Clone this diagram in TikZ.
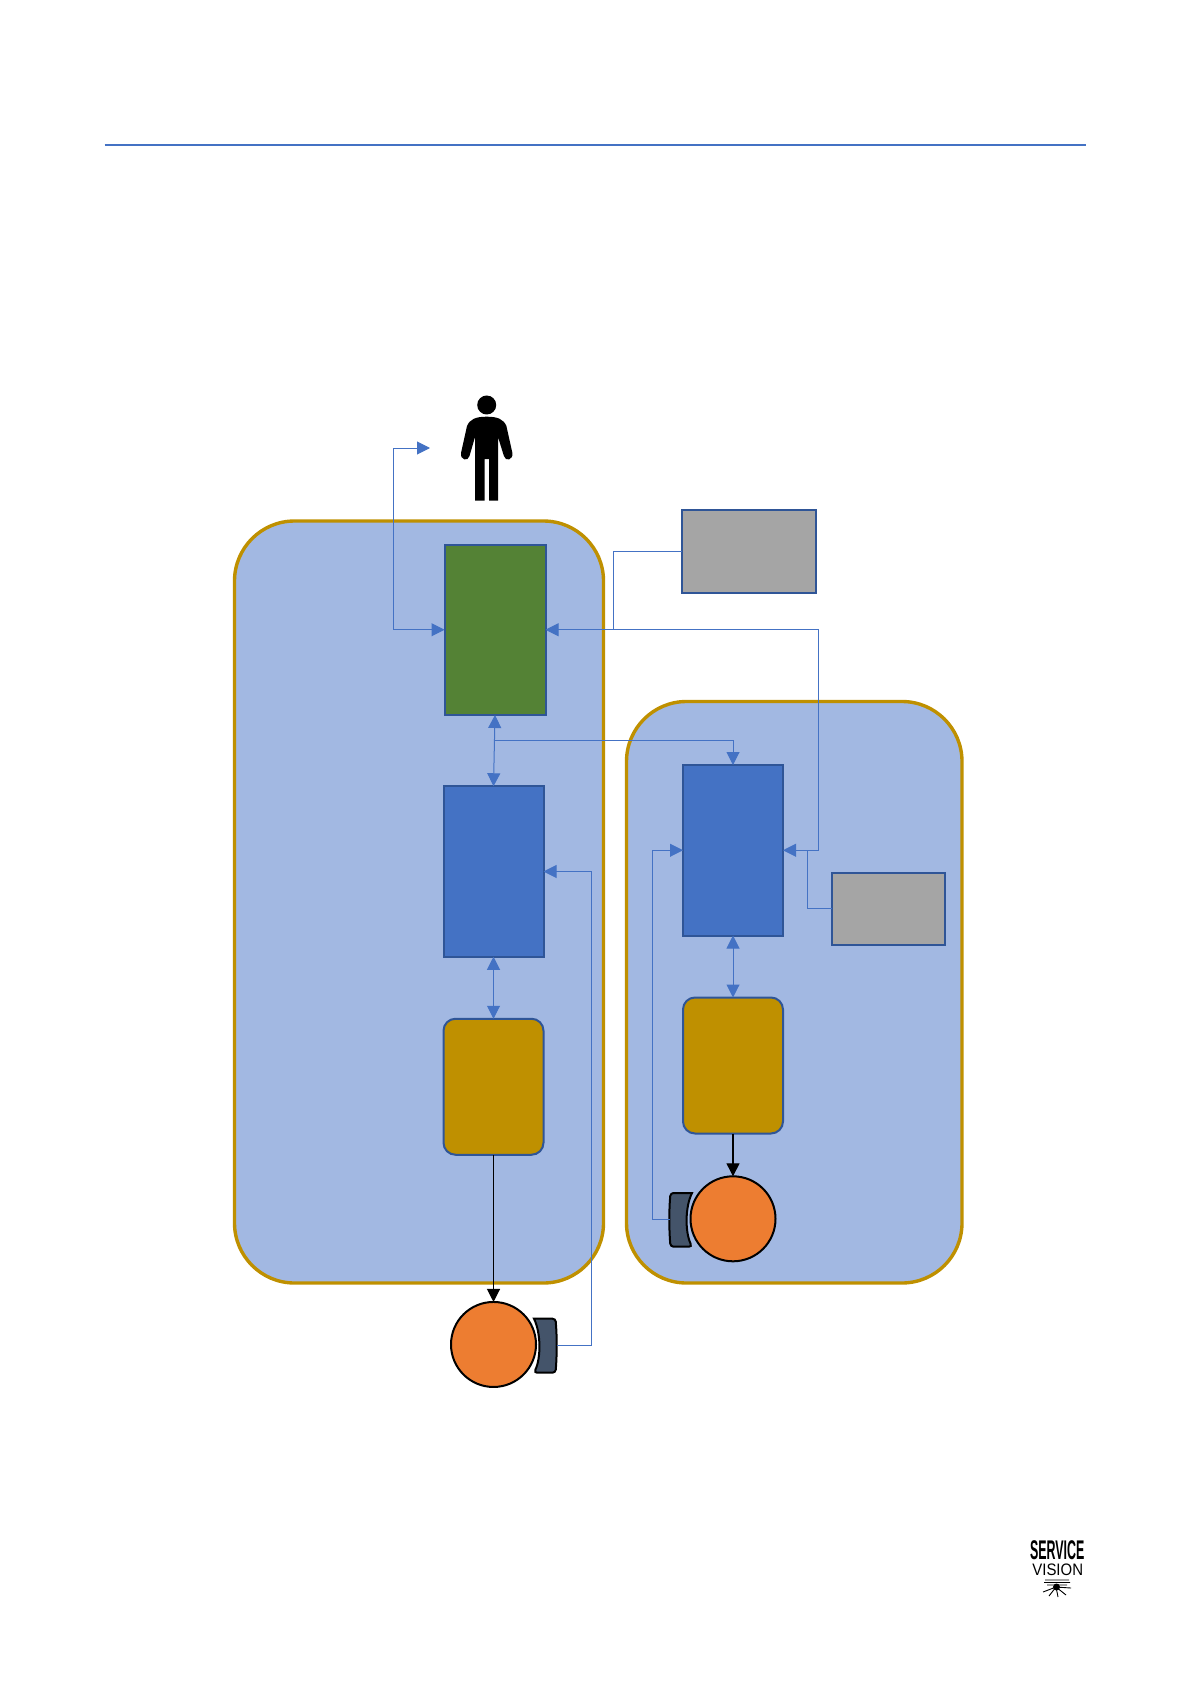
\documentclass[tikz,border=0pt]{standalone}
\usepackage{fontspec}
\setmainfont{Liberation Sans}
\usetikzlibrary{arrows.meta,positioning}
\definecolor{panelblue}{HTML}{A2B8E2}
\definecolor{panelgold}{HTML}{BF9000}
\definecolor{officeblue}{HTML}{4472C4}
\definecolor{edgeblue}{HTML}{2F5597}
\definecolor{officegreen}{HTML}{548235}
\definecolor{officeorange}{HTML}{ED7D31}
\definecolor{officegrey}{HTML}{A5A5A5}
\definecolor{slategrey}{HTML}{44546A}
\tikzset{
  panel/.style={
    rounded corners=30pt,
    draw=panelgold,
    fill=panelblue,
    line width=1.7pt
  },
  bloque/.style={
    draw=edgeblue,
    fill=officeblue,
    line width=1pt,
    outer sep=0pt,
    inner sep=0pt,
    minimum width=50pt,
    minimum height=85.25pt
  },
  drive/.style={
    bloque,
    rounded corners=6pt,
    fill=panelgold,
    minimum height=68pt
  },
  extra/.style={
    bloque,
    fill=officegrey
  },
  wheel/.style={
    circle,
    draw=black,
    fill=officeorange,
    line width=1pt,
    outer sep=0pt,
    inner sep=0pt,
    minimum size=42.5pt
  },
  sensor/.style={
    draw=black,
    fill=slategrey,
    line width=1pt,
    rounded corners=1.5pt
  },
  link/.style={
    -{Triangle[length=6.5pt,width=6.5pt]},
    officeblue,
    line width=.5pt
  },
  dlink/.style={
    link,
    {Triangle[length=6.5pt,width=6.5pt]}-{Triangle[length=6.5pt,width=6.5pt]}
  },
  feed/.style={
    officeblue,
    line width=.5pt
  },
  power/.style={
    -{Triangle[length=6.5pt,width=6.5pt]},
    black,
    line width=.6pt
  }
}
\begin{document}
\begin{tikzpicture}[x=.5pt,y=-.5pt]
\useasboundingbox (0,0) rectangle (1191,1684);
\draw[officeblue,line width=.6pt] (104.5,145) -- (1086,145);
% panels
\draw[panel] (234.5,521) rectangle (603.5,1283);
\draw[panel] (626.5,701.5) rectangle (962,1283);
% person
\node[circle,fill=black,inner sep=0pt,minimum size=9.5pt] (head) at (486.7,405) {};
\fill[black,line join=round] (486.7,416.7) .. controls (476,416.7) and (470,419) .. (467,426)
  -- (461,453) .. controls (460,460) and (468,462) .. (469.5,456) -- (475,437) -- (475,500.7)
  -- (484.5,500.7) -- (484.5,459) -- (489,459) -- (489,500.7) -- (498,500.7) -- (498,437)
  -- (503.9,456) .. controls (505.4,462) and (513.4,460) .. (512.4,453) -- (506.4,426)
  .. controls (503.4,419) and (497.4,416.7) .. (486.7,416.7) -- cycle;
% left column
\node[bloque,fill=officegreen,minimum width=50.5pt] (control) at (495,629.75) {};
\node[bloque] (blueL) at (493.5,871.5) {};
\node[drive,below=31pt of blueL] (driveL) {};
\node[wheel,below=73.6pt of driveL] (wheelL) {};
% right column
\node[bloque] (blueR) at (733,850.25) {};
\node[drive,below=31pt of blueR] (driveR) {};
\node[wheel,below=21.4pt of driveR] (wheelR) {};
% grey boxes
\node[extra,minimum width=67pt,minimum height=41.5pt] (extraT) at (749,551.5) {};
\node[extra,minimum width=56.5pt,minimum height=36.2pt] (extraB) at (888.3,908.8) {};
% sensors
\draw[sensor] (534,1318.7) -- (555.5,1318.7) .. controls (557,1336) and (557,1355) .. (555.5,1372.7)
  -- (534,1372.7) [sharp corners] .. controls (541,1358) and (541,1333) .. (534,1318.7) -- cycle;
\draw[sensor] (692,1193) -- (670.5,1193) .. controls (669,1210) and (669,1229) .. (670.5,1246.7)
  -- (692,1246.7) [sharp corners] .. controls (685,1232) and (685,1207) .. (692,1193) -- cycle;
\coordinate (sensorL) at (556.5,1345.5);
\coordinate (sensorR) at (669.5,1219);
\coordinate (backL) at (591.7,1345.5);
\coordinate (backR) at (652.7,1219);
% free ends
\coordinate (loop) at (393.5,448);
\coordinate (voice) at (430,448);
\coordinate (split) at (495,740);
\coordinate (bus) at (818.5,629.75);
\coordinate (joinT) at (613,629.75);
\coordinate (joinB) at (807,850.25);
% connectors
\draw[dlink] (control.west) -| (loop) -- (voice);
\draw[feed] (extraT.west) -| (joinT);
\draw[dlink] (control.east) -- (bus) |- (blueR.east);
\draw[feed] (extraB.west) -| (joinB);
\draw[dlink] (control.south) -- (blueL.north);
\draw[link] (split) -| (blueR.north);
\draw[dlink] (blueL.south) -- (driveL.north);
\draw[dlink] (blueR.south) -- (driveR.north);
\draw[power] (driveL.south) -- (wheelL.north);
\draw[power] (driveR.south) -- (wheelR.north);
\draw[link] (sensorL) -- (backL) |- (blueL.east);
\draw[link] (sensorR) -- (backR) |- (blueR.west);
% logo
\node[inner sep=0pt,font=\bfseries\fontsize{13.5}{13.5}\selectfont] (logoA) at (1057.2,1550.4) {\scalebox{.46}[1]{SERVICE}};
\node[inner sep=0pt,font=\fontsize{8.3}{8.3}\selectfont] (logoB) at (1057.7,1570) {\scalebox{.9}[1]{VISION}};
\draw[black,line width=.45pt] (1045,1580) -- (1069,1580) (1044,1582.5) -- (1070,1582.5) (1047,1585) -- (1067,1585)
  (1056,1587) -- (1049,1596) (1056,1587) -- (1058,1597) (1056,1587) -- (1066,1595) (1056,1587) -- (1043,1592) (1056,1587) -- (1071,1588);
\fill[black] (1056.5,1587) circle[radius=3.5];
\end{tikzpicture}
\end{document}
